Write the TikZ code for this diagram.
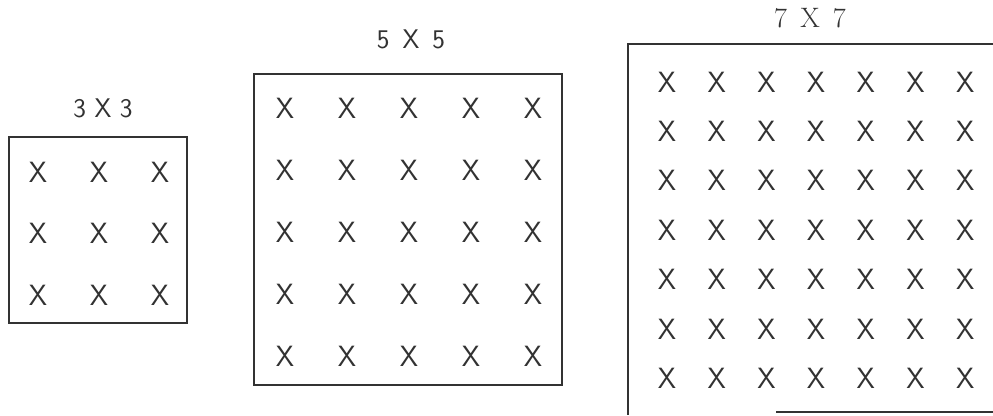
\documentclass[tikz,border=0pt]{standalone}
\usetikzlibrary{positioning}
\definecolor{inkgray}{RGB}{50,50,50}
\tikzset{
    gridbox/.style={draw=inkgray, line width=2.4pt},
    cellmark/.style={font=\sffamily\fontsize{25}{25}\selectfont, text=inkgray, inner sep=0pt},
    sizelabel/.style={font=\sffamily\fontsize{23}{23}\selectfont, text=inkgray, inner sep=0pt}
}

\begin{document}
\begin{tikzpicture}[x=0.03cm, y=-0.03cm]
    \useasboundingbox (0,0) rectangle (993,415);

    % 3 x 3
    \node[sizelabel] (titleA) at (103,108) {3 X 3};
    \draw[gridbox] (9,137) rectangle (187,323);
    \foreach \i in {1,2,3} {
        \foreach \j in {1,2,3} {
            \node[cellmark] (a-\i-\j) at ({38+(\i-1)*61},{172+(\j-1)*61.5}) {X};
        }
    }

    % 5 x 5
    \node[sizelabel] (titleB) at (411,39) {5 \,X\, 5};
    \draw[gridbox] (254,74) rectangle (562,385);
    \foreach \i in {1,...,5} {
        \foreach \j in {1,...,5} {
            \node[cellmark] (b-\i-\j) at ({285+(\i-1)*62},{108+(\j-1)*62.2}) {X};
        }
    }

    % 7 x 7, cut off at the right and bottom
    \node[sizelabel, font=\rmfamily\fontsize{24}{24}\selectfont] (titleC) at (810,18) {7 \,X\, 7};
    \draw[gridbox] (993,44) -- (628,44) -- (628,415);
    \draw[gridbox] (776,412) -- (993,412);
    \foreach \i in {1,...,7} {
        \foreach \j in {1,...,7} {
            \node[cellmark] (c-\i-\j) at ({667+(\i-1)*49.7},{82+(\j-1)*49.4}) {X};
        }
    }
\end{tikzpicture}
\end{document}
